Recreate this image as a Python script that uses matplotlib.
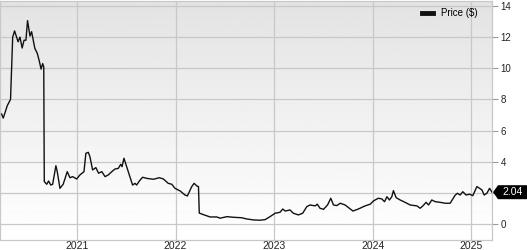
import matplotlib
matplotlib.use("Agg")
import matplotlib.pyplot as plt
import matplotlib.dates as mdates
from matplotlib.patches import Polygon
import numpy as np
import pandas as pd

plt.rcParams['font.family'] = ['Liberation Sans', 'DejaVu Sans']

# precio de cierre (lectura aproximada del grafico)
fechas = [
    "2020-03-28", "2020-04-03", "2020-04-18", "2020-04-30", "2020-05-08", "2020-05-15",
    "2020-05-28", "2020-06-04", "2020-06-12", "2020-06-19", "2020-06-26", "2020-07-02",
    "2020-07-11", "2020-07-17", "2020-07-29", "2020-08-07", "2020-08-14", "2020-08-21",
    "2020-08-27", "2020-08-31", "2020-09-02", "2020-09-11", "2020-09-18", "2020-09-26",
    "2020-10-03", "2020-10-15", "2020-10-20", "2020-10-30", "2020-11-11", "2020-11-26",
    "2020-12-06", "2020-12-16", "2020-12-31", "2021-01-12", "2021-01-27", "2021-02-03",
    "2021-02-12", "2021-02-18", "2021-02-28", "2021-03-12", "2021-03-22", "2021-04-03",
    "2021-04-15", "2021-04-27", "2021-05-10", "2021-05-22", "2021-06-03", "2021-06-12",
    "2021-06-17", "2021-06-24", "2021-07-04", "2021-07-16", "2021-07-26", "2021-08-04",
    "2021-08-10", "2021-08-20", "2021-09-01", "2021-09-16", "2021-10-11", "2021-11-02",
    "2021-11-17", "2021-12-05", "2021-12-18", "2021-12-30", "2022-01-18", "2022-02-05",
    "2022-02-14", "2022-02-21", "2022-03-02", "2022-03-11", "2022-03-21", "2022-03-27",
    "2022-03-30", "2022-04-14", "2022-05-09", "2022-06-03", "2022-06-15", "2022-07-10",
    "2022-08-03", "2022-09-03", "2022-09-22", "2022-10-16", "2022-11-10", "2022-11-29",
    "2022-12-17", "2023-01-05", "2023-01-23", "2023-02-02", "2023-02-11", "2023-03-01",
    "2023-03-13", "2023-04-01", "2023-04-17", "2023-05-02", "2023-05-14", "2023-06-02",
    "2023-06-10", "2023-06-20", "2023-07-03", "2023-07-18", "2023-07-30", "2023-08-09",
    "2023-08-21", "2023-09-03", "2023-09-21", "2023-10-20", "2023-11-09", "2023-12-04",
    "2023-12-23", "2024-01-04", "2024-01-22", "2024-02-04", "2024-02-14", "2024-02-23",
    "2024-03-03", "2024-03-12", "2024-03-18", "2024-03-28", "2024-04-12", "2024-04-30",
    "2024-05-19", "2024-06-13", "2024-06-25", "2024-07-05", "2024-07-17", "2024-07-26",
    "2024-08-07", "2024-08-20", "2024-09-07", "2024-09-26", "2024-10-14", "2024-11-02",
    "2024-11-10", "2024-11-20", "2024-11-30", "2024-12-12", "2024-12-25", "2025-01-06",
    "2025-01-21", "2025-01-31", "2025-02-09", "2025-02-17", "2025-02-27", "2025-03-09",
    "2025-03-18",
]
precios = [
    7.06, 6.8, 7.6, 8.0, 12.0, 12.4,
    11.7, 12.0, 11.3, 11.8, 11.8, 13.06,
    12.07, 12.35, 11.28, 10.96, 10.5, 9.95,
    10.3, 10.1, 2.72, 2.55, 2.76, 2.5,
    2.55, 3.74, 3.36, 2.29, 2.55, 3.36,
    2.97, 3.04, 2.89, 3.15, 3.36, 4.54,
    4.6, 4.32, 3.47, 3.62, 3.26, 3.36,
    3.04, 3.15, 3.36, 3.53, 3.57, 3.83,
    3.68, 4.22, 3.68, 3.04, 2.5, 2.61,
    2.5, 2.76, 3.0, 2.93, 2.87, 2.97,
    2.89, 2.61, 2.55, 2.29, 2.12, 1.86,
    1.8, 2.07, 2.4, 2.61, 2.44, 2.4,
    0.7, 0.6, 0.45, 0.45, 0.37, 0.47,
    0.43, 0.4, 0.32, 0.26, 0.24, 0.28,
    0.47, 0.69, 0.75, 0.96, 0.83, 0.9,
    0.69, 0.58, 0.69, 1.11, 1.22, 1.16,
    1.27, 1.01, 0.94, 1.22, 1.65, 1.22,
    1.18, 1.33, 1.22, 0.83, 0.96, 1.16,
    1.27, 1.48, 1.65, 1.61, 1.43, 1.75,
    1.54, 1.75, 2.14, 1.69, 1.54, 1.39,
    1.22, 1.16, 1.01, 1.16, 1.39, 1.22,
    1.54, 1.43, 1.39, 1.33, 1.33, 1.86,
    1.97, 1.86, 2.07, 1.86, 1.91, 1.82,
    2.4, 2.29, 2.18, 1.86, 1.97, 2.29,
    2.04,
]
ultimo = 2.04
y_ticks = [0, 2, 4, 6, 8, 10, 12, 14]
# la etiqueta del ultimo precio tapa el "2"
y_labels = ["0", "", "4", "6", "8", "10", "12", "14"]
anios = ["2021", "2022", "2023", "2024", "2025"]

t = pd.to_datetime(fechas)
x_ini = pd.Timestamp("2020-03-22")
x_fin = t[-1]

fig = plt.figure(figsize=(5.27, 2.5), dpi=100)
ax = fig.add_axes([0.0, 0.04, 492 / 527, 0.956])

# fondo degradado gris -> blanco
grad = np.linspace(1.0, 0.89, 256).reshape(-1, 1)
ax.imshow(grad, cmap="gray", vmin=0, vmax=1, aspect="auto",
          extent=[0, 1, 0, 1], transform=ax.transAxes, zorder=0, origin="lower")

ax.plot(t, precios, color="#111111", lw=1.0, zorder=3, label="Price ($)")

ax.set_xlim(x_ini, x_fin)
ax.set_ylim(-1.03, 14.32)

ax.set_xticks([pd.Timestamp(a + "-01-01") for a in anios])
ax.set_xticklabels(anios)
ax.set_yticks(y_ticks)
ax.set_yticklabels(y_labels)
ax.yaxis.tick_right()
ax.tick_params(axis="y", length=4, width=0.8, color="#999999", labelsize=7,
               pad=2, labelcolor="#222222")
ax.tick_params(axis="x", length=0, labelsize=7.5, pad=1, labelcolor="#222222")

ax.grid(True, color="#c8c8c8", lw=0.9, zorder=1)
for s in ax.spines.values():
    s.set_color("#c8c8c8")
    s.set_linewidth(0.9)

leg = ax.legend(loc="upper right", frameon=False, fontsize=7, handlelength=1.2,
                handleheight=0.4, borderaxespad=0.3, bbox_to_anchor=(0.985, 1.0))
for h in leg.legend_handles:
    h.set_linewidth(3.5)

# etiqueta del ultimo precio
fig.canvas.draw()
px, py = ax.transData.transform((mdates.date2num(x_fin), ultimo))
w_fig = fig.bbox.width
etiqueta = Polygon([(px + 1, py), (px + 6, py + 7), (w_fig, py + 7),
                    (w_fig, py - 7), (px + 6, py - 7)],
                   closed=True, transform=None, facecolor="black",
                   edgecolor="none", clip_on=False, zorder=5)
fig.add_artist(etiqueta)
fig.text((px + 6 + w_fig) / 2 / w_fig, py / fig.bbox.height, "2.04",
         color="white", fontsize=7.5, ha="center", va="center", zorder=6)

fig.savefig("out.png", dpi=100)
